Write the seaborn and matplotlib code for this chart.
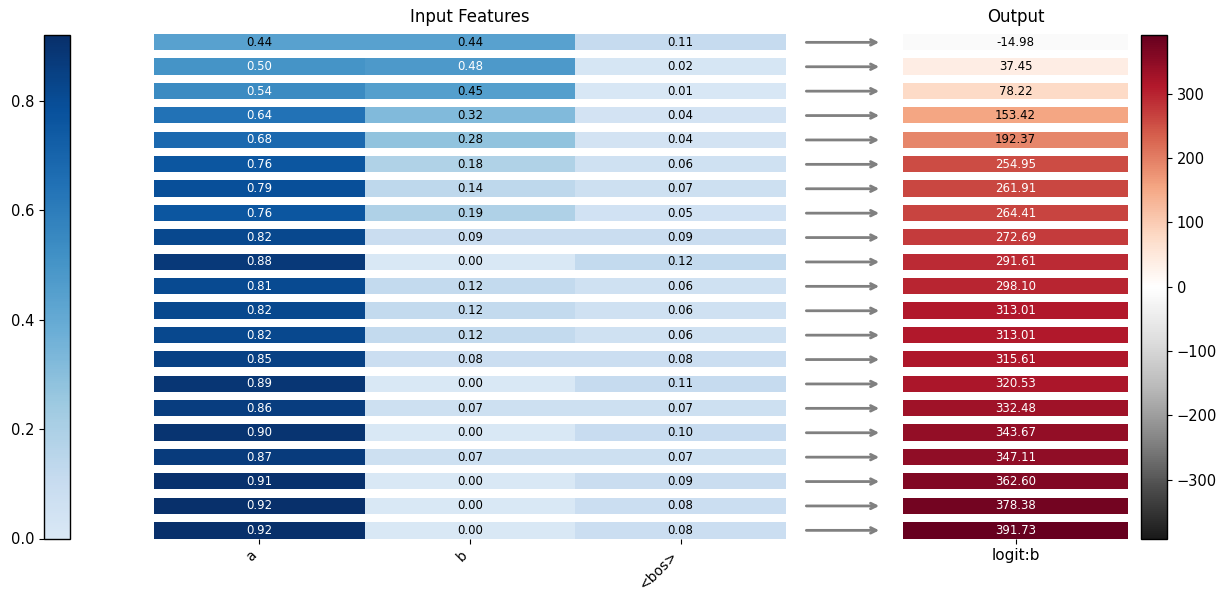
import numpy as np
import pandas as pd
import matplotlib
matplotlib.use("Agg")
import matplotlib.pyplot as plt
import seaborn as sns
from matplotlib.colors import LinearSegmentedColormap

# feature attributions per row
feat_a = [0.44, 0.50, 0.54, 0.64, 0.68, 0.76, 0.79, 0.76, 0.82, 0.88, 0.81,
          0.82, 0.82, 0.85, 0.89, 0.86, 0.90, 0.87, 0.91, 0.92, 0.92]
feat_b = [0.44, 0.48, 0.45, 0.32, 0.28, 0.18, 0.14, 0.19, 0.09, 0.00, 0.12,
          0.12, 0.12, 0.08, 0.00, 0.07, 0.00, 0.07, 0.00, 0.00, 0.00]
feat_bos = [0.11, 0.02, 0.01, 0.04, 0.04, 0.06, 0.07, 0.05, 0.09, 0.12, 0.06,
            0.06, 0.06, 0.08, 0.11, 0.07, 0.10, 0.07, 0.09, 0.08, 0.08]
logits = [-14.98, 37.45, 78.22, 153.42, 192.37, 254.95, 261.91, 264.41, 272.69,
          291.61, 298.10, 313.01, 313.01, 315.61, 320.53, 332.48, 343.67,
          347.11, 362.60, 378.38, 391.73]
feature_names = ["a", "b", "<bos>"]
output_name = "logit:b"

df_in = pd.DataFrame({"a": feat_a, "b": feat_b, "<bos>": feat_bos})
df_out = pd.DataFrame({output_name: logits})
n_rows = len(df_in)

W, H = 1227, 592
fig = plt.figure(figsize=(W / 100, H / 100), dpi=100)


def px_axes(x0, y0, x1, y1):
    # pixel box (top-left origin) -> figure axes
    return fig.add_axes([x0 / W, 1 - y1 / H, (x1 - x0) / W, (y1 - y0) / H])


top, bottom = 26.3, 538.7
ax_in = px_axes(154, top, 786, bottom)
ax_arrow = px_axes(786, top, 903, bottom)
ax_out = px_axes(903, top, 1128, bottom)
cax_in = px_axes(44, 35, 70, 538.5)
cax_out = px_axes(1141, 35, 1167, 538.5)

blues = LinearSegmentedColormap.from_list(
    "blues_trunc", plt.cm.Blues(np.linspace(0.15, 1.0, 256)))

vmax_in = df_in.values.max()
sns.heatmap(df_in, ax=ax_in, cmap=blues, vmin=0, vmax=vmax_in,
            annot=True, fmt=".2f", annot_kws={"fontsize": 8.5},
            cbar_ax=cax_in, yticklabels=False)
lim = np.abs(df_out.values).max()
sns.heatmap(df_out, ax=ax_out, cmap="RdGy_r", vmin=-lim, vmax=lim,
            annot=True, fmt=".2f", annot_kws={"fontsize": 8.5},
            cbar_ax=cax_out, yticklabels=False)

# white gap at the top of every row; labels centred in what is left
gap = 0.316
for ax, vals, thr in ((ax_in, df_in.values.ravel(), vmax_in / 2),
                      (ax_out, df_out.values.ravel(), lim / 2)):
    for i in range(n_rows):
        ax.axhspan(i - 0.02, i + gap, color="white", lw=0)
    for t, v in zip(ax.texts, vals):
        x, y = t.get_position()
        t.set_position((x, y + gap / 2))
        t.set_color("white" if v > thr else "black")
    ax.tick_params(left=False)

ax_in.set_title("Input Features", fontsize=12, pad=0.5)
ax_out.set_title("Output", fontsize=12, pad=0.5)
ax_in.set_xticklabels(feature_names, rotation=45, ha="right", fontsize=10)
ax_out.set_xticklabels([output_name], rotation=0, fontsize=11)

# arrows from inputs to output
ax_arrow.set_xlim(0, 1)
ax_arrow.set_ylim(n_rows, 0)
ax_arrow.axis("off")
for i in range(n_rows):
    yc = i + 0.5 + gap / 2
    ax_arrow.annotate("", xy=(0.82, yc), xytext=(0.15, yc),
                      arrowprops=dict(arrowstyle="->", color="gray", lw=2))

for ax, cax in ((ax_in, cax_in), (ax_out, cax_out)):
    ax.collections[0].colorbar.outline.set_linewidth(1)
    cax.tick_params(labelsize=10.5)
cax_in.yaxis.set_ticks_position("left")
cax_in.set_yticks([0.0, 0.2, 0.4, 0.6, 0.8])
cax_out.set_yticks([-300, -200, -100, 0, 100, 200, 300])

fig.savefig("out.png", dpi=100)
